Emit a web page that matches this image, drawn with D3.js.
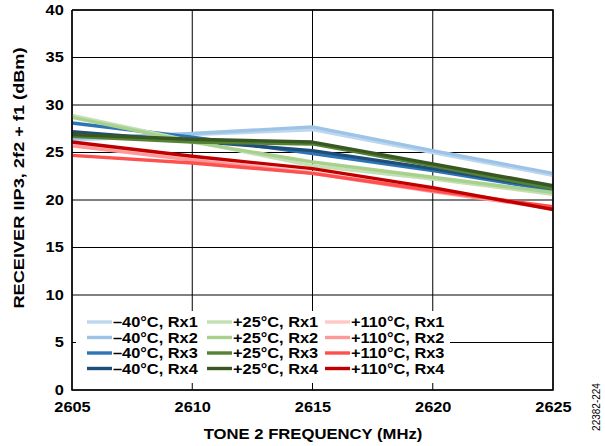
<!DOCTYPE html>
<html><head><meta charset="utf-8">
<script src="https://cdn.jsdelivr.net/npm/d3@7"></script>
<style>body{margin:0;background:#fff;} svg{display:block;}</style>
</head><body>
<svg id="c" width="605" height="446"></svg>
<script>
const freqs = [2605, 2610, 2615, 2620, 2625];
const yTicks = [0, 5, 10, 15, 20, 25, 30, 35, 40];
const xTicks = [2605, 2610, 2615, 2620, 2625];
const seriesNames = ["–40°C, Rx1","–40°C, Rx2","–40°C, Rx3","–40°C, Rx4",
  "+25°C, Rx1","+25°C, Rx2","+25°C, Rx3","+25°C, Rx4",
  "+110°C, Rx1","+110°C, Rx2","+110°C, Rx3","+110°C, Rx4"];
const seriesColors = ["#bdd7ee","#9dc3e6","#2e75b6","#1f4e79",
  "#c5e0b4","#a9d18e","#548235","#385723",
  "#ffc7c7","#ff9999","#ff5050","#c00000"];
const m40Rx1 = [26.3, 26.9, 27.4, 25.0, 22.6];
const m40Rx2 = [26.5, 27.0, 27.7, 25.2, 22.8];
const m40Rx3 = [28.1, 26.6, 24.9, 23.1, 21.0];
const m40Rx4 = [27.2, 26.2, 25.2, 23.3, 21.2];
const p25Rx1 = [28.9, 26.2, 23.6, 22.2, 20.6];
const p25Rx2 = [28.7, 26.1, 24.0, 22.4, 20.8];
const p25Rx3 = [26.7, 26.1, 25.9, 23.6, 21.2];
const p25Rx4 = [26.9, 26.4, 26.1, 23.8, 21.5];
const p110Rx1 = [25.9, 24.3, 22.9, 21.0, 19.2];
const p110Rx2 = [25.7, 24.2, 22.8, 20.9, 19.1];
const p110Rx3 = [24.7, 23.9, 22.8, 21.0, 19.3];
const p110Rx4 = [26.1, 24.6, 23.3, 21.3, 19.0];
const seriesValues = [m40Rx1,m40Rx2,m40Rx3,m40Rx4,p25Rx1,p25Rx2,p25Rx3,p25Rx4,p110Rx1,p110Rx2,p110Rx3,p110Rx4];

const svg = d3.select("#c");
const L = 72, R = 553, T = 10, B = 390;
const x = d3.scaleLinear().domain([2605, 2625]).range([L, R]);
const y = d3.scaleLinear().domain([0, 40]).range([B, T]);
const font = "'Liberation Sans', Arial, sans-serif";
const SX = 1.17;

// gridlines
const g = svg.append("g");
g.selectAll(".hg").data(yTicks).join("line")
  .attr("x1", L).attr("x2", R).attr("y1", d => y(d)).attr("y2", d => y(d))
  .attr("stroke", "#000").attr("stroke-width", 1);
g.selectAll(".vg").data(xTicks).join("line")
  .attr("x1", d => x(d)).attr("x2", d => x(d)).attr("y1", T).attr("y2", B)
  .attr("stroke", "#000").attr("stroke-width", 1);

// lines
const line = d3.line().x((d, i) => x(freqs[i])).y(d => y(d));
svg.append("g").selectAll("path").data(seriesValues).join("path")
  .attr("d", d => line(d)).attr("fill", "none")
  .attr("stroke", (d, i) => seriesColors[i]).attr("stroke-width", 3.4)
  .attr("stroke-linejoin", "round");

// legend
const lg = svg.append("g");
lg.append("rect").attr("x", 76).attr("y", 311).attr("width", 374).attr("height", 72).attr("fill", "#fff");
const colX = [87, 207, 325];
const rowY = [322, 337.5, 353, 368.5];
seriesNames.forEach((n, i) => {
  const c = Math.floor(i / 4), r = i % 4;
  lg.append("line").attr("x1", colX[c]).attr("x2", colX[c] + 25)
    .attr("y1", rowY[r]).attr("y2", rowY[r])
    .attr("stroke", seriesColors[i]).attr("stroke-width", 3.4);
  lg.append("text").attr("transform", `translate(${colX[c] + 26},${rowY[r] + 5}) scale(${SX},1)`)
    .attr("font-family", font).attr("font-weight", "bold").attr("font-size", 14)
    .attr("fill", "#000").text(n);
});

// axes frame
svg.append("path").attr("d", `M${L},${T}V${B}H${R}V${T}H${L}`)
  .attr("fill", "none").attr("stroke", "#000").attr("stroke-width", 1.5);

// tick labels via axes
const yAxis = svg.append("g").attr("transform", `translate(${L},0)`)
  .call(d3.axisLeft(y).tickValues(yTicks).tickSize(0).tickPadding(7));
const xAxis = svg.append("g").attr("transform", `translate(0,${B})`)
  .call(d3.axisBottom(x).tickValues(xTicks).tickFormat(d3.format("d")).tickSize(0).tickPadding(12));
[yAxis, xAxis].forEach(a => {
  a.select(".domain").remove();
  a.selectAll("text").attr("font-family", font).attr("font-weight", "bold")
    .attr("font-size", 14).attr("fill", "#000").attr("transform", `scale(${SX},1)`);
});
xAxis.selectAll("text").attr("transform", `scale(${SX},1)`).attr("x", 0);

// titles
svg.append("text").attr("transform", `translate(313,439) scale(${SX + 0.02},1)`).attr("text-anchor", "middle")
  .attr("font-family", font).attr("font-weight", "bold").attr("font-size", 14)
  .text("TONE 2 FREQUENCY (MHz)");
svg.append("text").attr("transform", "translate(24,178) rotate(-90) scale(1.3,1)").attr("text-anchor", "middle")
  .attr("font-family", font).attr("font-weight", "bold").attr("font-size", 14)
  .text("RECEIVER IIP3, 2f2 + f1 (dBm)");
svg.append("text").attr("transform", "translate(600,407) rotate(-90)").attr("text-anchor", "middle")
  .attr("font-family", font).attr("font-size", 10).text("22382-224");
</script>
</body></html>
